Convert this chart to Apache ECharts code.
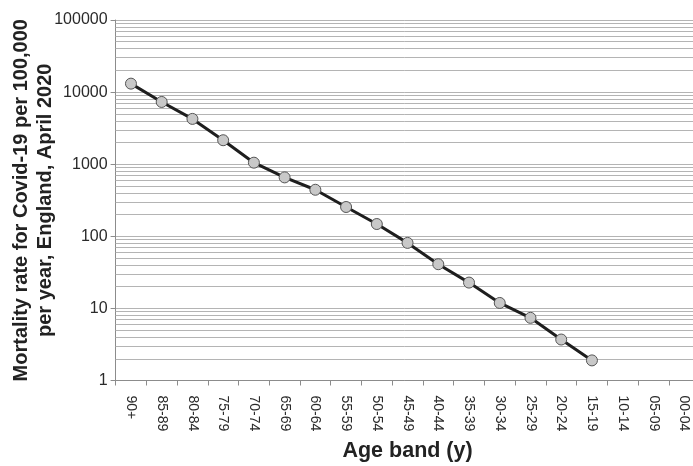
<!DOCTYPE html>
<html>
<head>
<meta charset="utf-8">
<script src="https://cdn.jsdelivr.net/npm/echarts@6/dist/echarts.min.js"></script>
<style>
  html, body { margin: 0; padding: 0; background: #fff; }
  #chart { width: 693px; height: 466px; }
</style>
</head>
<body>
<div id="chart"></div>
<script>
// Age bands, oldest first
const ageBands = ['90+', '85-89', '80-84', '75-79', '70-74', '65-69', '60-64', '55-59',
  '50-54', '45-49', '40-44', '35-39', '30-34', '25-29', '20-24', '15-19',
  '10-14', '05-09', '00-04'];

// Covid-19 deaths per 100,000 per year, England, April 2020
const mortalityRate = [13100, 7300, 4250, 2150, 1050, 656, 442, 255,
  148, 81, 41, 22.8, 11.9, 7.4, 3.7, 1.9];

// Log-axis decades shown on the value axis
const decadeTicks = [1, 10, 100, 1000, 10000, 100000];

// Minor gridlines at 2..9 within each decade
const minorLines = [];
decadeTicks.slice(0, -1).forEach(function (d) {
  for (let k = 2; k <= 9; k++) minorLines.push({ yAxis: d * k });
});

const chart = echarts.init(document.getElementById('chart'), null, { renderer: 'canvas' });

const gridColor = '#b4b4b4';
const axisColor = '#8c8c8c';
const textFont = '"Liberation Sans", Arial, sans-serif';

chart.setOption({
  animation: false,
  backgroundColor: '#ffffff',
  grid: {
    left: 115.6, right: -6.5, top: 20, bottom: 85.5,
    containLabel: false, outerBoundsMode: 'none'
  },
  xAxis: {
    type: 'category',
    data: ageBands,
    boundaryGap: true,
    name: 'Age band (y)',
    nameLocation: 'middle',
    nameGap: 60,
    nameMoveOverlap: false,
    nameTextStyle: { fontFamily: textFont, fontSize: 21.5, fontWeight: 'bold', color: '#222' },
    axisLine: { lineStyle: { color: axisColor, width: 1 } },
    axisTick: { show: true, length: 5, interval: 0, lineStyle: { color: axisColor } },
    axisLabel: {
      interval: 0, rotate: -90, margin: 15,
      fontFamily: textFont, fontSize: 14, color: '#2a2a2a'
    },
    splitLine: { show: false }
  },
  yAxis: {
    type: 'log',
    logBase: 10,
    min: 1,
    max: 100000,
    name: 'Mortality rate for Covid-19 per 100,000\nper year, England, April 2020',
    nameLocation: 'middle',
    nameGap: 58,
    nameMoveOverlap: false,
    nameTextStyle: { fontFamily: textFont, fontSize: 20, fontWeight: 'bold', color: '#222', lineHeight: 24 },
    axisLine: { show: true, lineStyle: { color: axisColor, width: 1 } },
    axisTick: { show: true, length: 5, lineStyle: { color: axisColor } },
    axisLabel: {
      margin: 8, fontFamily: textFont, fontSize: 16, color: '#2a2a2a',
      formatter: function (v) { return String(Math.round(v)); }
    },
    splitLine: { show: true, lineStyle: { color: gridColor, width: 1 } }
  },
  series: [{
    type: 'line',
    data: mortalityRate,
    symbol: 'circle',
    symbolSize: 11,
    lineStyle: { color: '#1e1e1e', width: 3 },
    itemStyle: { color: '#c8c8c8', borderColor: '#555555', borderWidth: 1 },
    z: 5,
    markLine: {
      silent: true,
      symbol: ['none', 'none'],
      label: { show: false },
      lineStyle: { color: gridColor, width: 1, type: 'solid' },
      animation: false,
      z: 1,
      data: minorLines
    }
  }]
});
</script>
</body>
</html>
